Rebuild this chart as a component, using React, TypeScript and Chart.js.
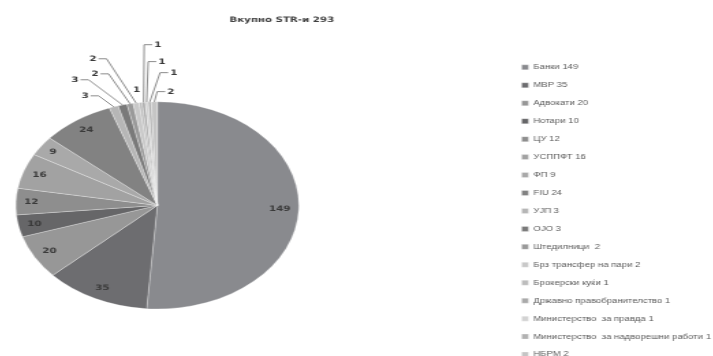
import React, { useEffect, useRef } from "react";
import { Chart, registerables } from "chart.js";

Chart.register(...registerables);

const TITLE = "Вкупно STR-и 293";

const CATEGORIES = [
  "Банки",
  "МВР",
  "Адвокати",
  "Нотари",
  "ЦУ",
  "УСППФТ",
  "ФП",
  "FIU",
  "УЈП",
  "ОЈО",
  "Штедилници ",
  "Брз трансфер на пари",
  "Брокерски куќи",
  "Државно правобранителство",
  "Министерство  за правда",
  "Министерство  за надворешни работи",
  "НБРМ",
];

const VALUES = [149, 35, 20, 10, 12, 16, 9, 24, 3, 3, 2, 2, 1, 1, 1, 1, 2];

const COLORS = [
  "#898a8e",
  "#6d6d70",
  "#979797",
  "#666668",
  "#8e8e8e",
  "#a2a2a2",
  "#a9a9a9",
  "#828282",
  "#b6b6b6",
  "#7a7a7a",
  "#9a9a9a",
  "#c9c9c9",
  "#bdbdbd",
  "#aaaaaa",
  "#d3d3d3",
  "#b2b2b2",
  "#c5c5c5",
];

// callout placement for small slices: [dx, dy, leader] relative to the arc edge
const CALLOUTS: Record<number, [number, number, boolean]> = {
  8: [-21.1, -11, true],
  9: [-34.9, -25.2, true],
  10: [-25.7, -29.9, true],
  11: [-31.6, -44.2, true],
  12: [-2.8, -12.7, false],
  13: [10.4, -57.6, true],
  14: [11.1, -40.5, true],
  15: [17.6, -29.3, true],
  16: [12.1, -10.2, true],
};

const SX = 1.366; // horizontal stretch of the picture
const CANVAS_W = 662;
const CANVAS_H = 369;
const OFFSET_X = -140.45;
const LABEL_FONT = 'bold 7.5px "DejaVu Sans", sans-serif';
const TITLE_FONT = 'bold 7.5px "DejaVu Sans", sans-serif';

const valueLabels = {
  id: "valueLabels",
  afterDatasetsDraw(chart: any) {
    const meta = chart.getDatasetMeta(0);
    const ctx = chart.ctx as CanvasRenderingContext2D;
    ctx.save();
    ctx.font = LABEL_FONT;
    ctx.fillStyle = "#3a3a3a";
    ctx.strokeStyle = "#6e6e6e";
    ctx.lineWidth = 0.8;
    ctx.textAlign = "center";
    ctx.textBaseline = "middle";
    meta.data.forEach((arc: any, i: number) => {
      const { x, y, startAngle, endAngle, outerRadius } = arc.getProps(
        ["x", "y", "startAngle", "endAngle", "outerRadius"],
        true
      );
      const mid = (startAngle + endAngle) / 2;
      const cos = Math.cos(mid);
      const sin = Math.sin(mid);
      const text = String(VALUES[i]);
      const hw = ctx.measureText(text).width / 2;
      const hh = 3.7;
      const call = CALLOUTS[i];
      if (!call) {
        const rr = outerRadius - 6 - Math.abs(cos) * hw - Math.abs(sin) * hh;
        ctx.fillText(text, x + cos * rr, y + sin * rr);
      } else {
        const ex = x + cos * outerRadius;
        const ey = y + sin * outerRadius;
        const lx = ex + call[0];
        const ly = ey + call[1];
        if (call[2]) {
          const side = call[0] < 0 ? 1 : -1;
          ctx.beginPath();
          ctx.moveTo(lx + side * (hw + 1.5), ly);
          ctx.lineTo(lx + side * 10, ly);
          ctx.lineTo(ex, ey);
          ctx.stroke();
        }
        ctx.fillText(text, lx, ly);
      }
    });
    ctx.restore();
  },
};

const sideTitle = {
  id: "sideTitle",
  afterDraw(chart: any) {
    const ctx = chart.ctx as CanvasRenderingContext2D;
    const { left, right } = chart.chartArea;
    ctx.save();
    ctx.font = TITLE_FONT;
    ctx.fillStyle = "#404040";
    ctx.textAlign = "center";
    ctx.textBaseline = "middle";
    ctx.fillText(TITLE, (left + right) / 2 + 91.1, 20);
    ctx.restore();
  },
};

export default function App() {
  const ref = useRef<HTMLCanvasElement | null>(null);

  useEffect(() => {
    if (!ref.current) return;
    const chart = new Chart(ref.current, {
      type: "pie",
      data: {
        labels: CATEGORIES.map((c, i) => `${c} ${VALUES[i]}`),
        datasets: [
          {
            data: VALUES,
            backgroundColor: COLORS,
            borderColor: "rgba(255,255,255,0.55)",
            borderWidth: 0.5,
            radius: 103.6,
          } as any,
        ],
      },
      options: {
        animation: false,
        responsive: true,
        maintainAspectRatio: false,
        layout: { padding: { top: 41.8, bottom: 0, left: 0, right: 0 } },
        plugins: {
          title: { display: false },
          tooltip: { enabled: false },
          legend: {
            position: "right",
            align: "end",
            maxWidth: 150.5,
            labels: {
              boxWidth: 5,
              boxHeight: 5,
              padding: 10.95,
              color: "#5a5a5a",
              font: { family: '"Liberation Sans", Arial, sans-serif', size: 7 },
            },
          },
        },
      },
      plugins: [valueLabels, sideTitle],
    });
    return () => chart.destroy();
  }, []);

  return (
    <div
      style={{
        position: "absolute",
        left: 0,
        top: 0,
        width: 713,
        height: 356,
        overflow: "hidden",
        background: "#ffffff",
      }}
    >
      <div
        style={{
          position: "absolute",
          left: OFFSET_X * SX,
          top: 0,
          width: CANVAS_W,
          height: CANVAS_H,
          transform: `scaleX(${SX})`,
          transformOrigin: "0 0",
        }}
      >
        <canvas ref={ref} />
      </div>
    </div>
  );
}
